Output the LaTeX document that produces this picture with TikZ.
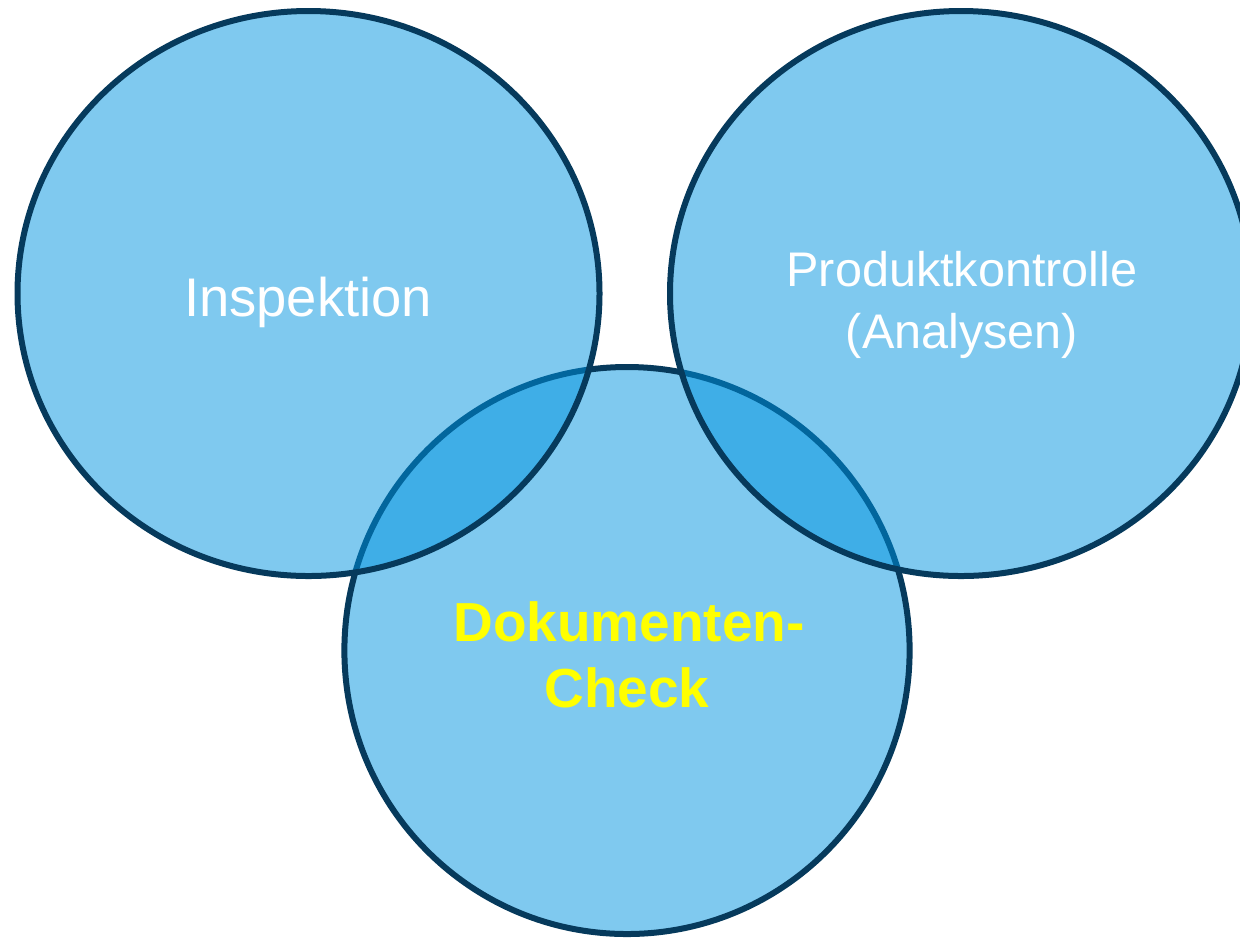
\documentclass[tikz,border=0pt]{standalone}
\usepackage{fontspec}
\setmainfont{Liberation Sans}
\usetikzlibrary{shapes.geometric}
\definecolor{bubble}{RGB}{0,147,223}
\definecolor{rim}{RGB}{6,58,92}
\definecolor{labelyellow}{RGB}{255,255,0}
\begin{document}
\begin{tikzpicture}[x=0.5pt,y=-0.5pt,
  bubblestyle/.style={ellipse, draw=rim, line width=3pt, fill=bubble,
    fill opacity=0.5, draw opacity=1, inner sep=0pt, outer sep=0pt},
  whitelab/.style={text=white, inner sep=0pt, anchor=base},
  yellowlab/.style={text=labelyellow, inner sep=0pt, anchor=base,
    font=\fontsize{27.5pt}{33pt}\selectfont\bfseries}]
\useasboundingbox (0,0) rectangle (1240,939);
\clip (0,0) rectangle (1240,939);
\node[bubblestyle, minimum width=282.6pt, minimum height=283.5pt] (dok) at (627,650.5) {};
\node[bubblestyle, minimum width=291pt, minimum height=282.5pt] (insp) at (308.5,293.5) {};
\node[bubblestyle, minimum width=291pt, minimum height=282.5pt] (prod) at (961,293.5) {};
\node[whitelab, font=\fontsize{27.2pt}{33pt}\selectfont] (tinsp) at (308,316) {Inspektion};
\node[whitelab, font=\fontsize{24.3pt}{31pt}\selectfont] (tprod1) at (962,286) {Produktkontrolle};
\node[whitelab, font=\fontsize{24.3pt}{31pt}\selectfont] (tprod2) at (962,348) {(Analysen)};
\node[yellowlab] (tdok1) at (629,641) {Dokumenten-};
\node[yellowlab] (tdok2) at (627,707) {Check};
\end{tikzpicture}
\end{document}
